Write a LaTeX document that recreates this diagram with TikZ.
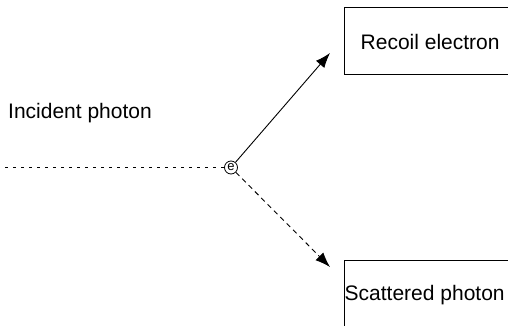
\documentclass[tikz,border=0pt]{standalone}
\usepackage{fontspec}
\setmainfont{Liberation Sans}
\usetikzlibrary{arrows.meta}
\begin{document}
\begin{tikzpicture}[x=1pt,y=-1pt,
  lbl/.style={anchor=base west,inner sep=0pt,font=\fontsize{21}{25}\selectfont},
  boxline/.style={draw=black,line width=0.9pt},
  arr/.style={line width=0.9pt,-{Latex[length=15pt,width=11pt]}},
  dotline/.style={line width=0.8pt,dash pattern=on 2.5pt off 5.5pt},
  dashline/.style={line width=0.9pt,dash pattern=on 5pt off 4pt}]
\useasboundingbox (0,0) rectangle (508,326);
\clip (0,0) rectangle (508,326);
% boxes
\draw[boxline] (520,7) -- (344,7) -- (344,74) -- (520,74);
\draw[boxline] (520,260) -- (344,260) -- (344,330);
% labels
\node[lbl] (inc) at (8,118) {Incident photon};
\node[lbl] (rec) at (360.5,50) {Recoil electron};
\node[lbl] (sca) at (344.5,300) {Scattered photon};
% electron
\node[circle,draw,line width=0.8pt,minimum size=13pt,inner sep=0pt,font=\fontsize{13}{13}\selectfont] (e) at (231,167.5) {e};
\coordinate (start) at (5,167.5);
\coordinate (up) at (330,53);
\coordinate (down) at (330,267);
\draw[dotline] (start) -- (e.west);
\draw[arr] (e) -- (up);
\draw[arr,dashline] (e) -- (down);
\end{tikzpicture}
\end{document}
